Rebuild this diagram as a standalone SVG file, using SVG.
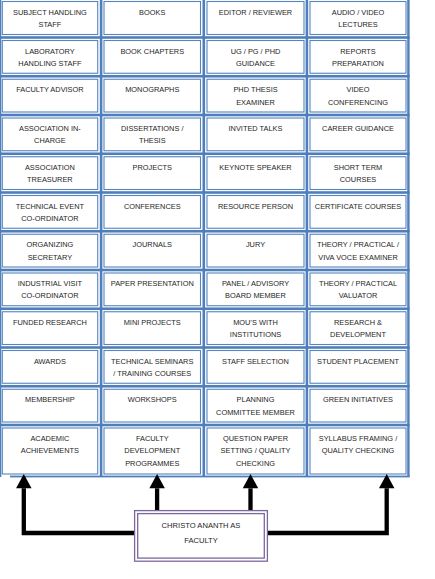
<svg xmlns="http://www.w3.org/2000/svg" width="435" height="579" viewBox="0 0 435 579">
<style>
.sep{fill:#4f7fba}
.cell{fill:#fff;stroke:#5584c0;stroke-width:1.1}
.t{font-family:"Liberation Sans",Arial,sans-serif;font-size:7.4px;fill:#1e1e1e;text-anchor:middle}
.c{fill:none;stroke:#000;stroke-width:4.3;stroke-linejoin:miter}
.main{fill:#fff;stroke:#7d679f;stroke-width:1.3}
.mt{font-family:"Liberation Sans",Arial,sans-serif;font-size:7.6px;fill:#1e1e1e;text-anchor:middle}
</style>
<defs>
<marker id="ah" markerUnits="userSpaceOnUse" markerWidth="15" markerHeight="16" refX="0" refY="7.75" orient="auto" overflow="visible">
<path d="M0,0 L14.3,7.75 L0,15.5 Z" fill="#000"/>
</marker>
</defs>
<rect width="435" height="579" fill="#fff"/>
<g id="grid">
<rect class="sep" x="0" y="0" width="1.3" height="477"/>
<rect class="sep" x="99.8" y="0" width="2.6" height="477"/>
<rect class="sep" x="202.5" y="0" width="2.6" height="477"/>
<rect class="sep" x="305.6" y="0" width="2.6" height="477"/>
<rect class="sep" x="407.2" y="0" width="2.4" height="477"/>
<rect class="sep" x="0" y="36.2" width="409.6" height="2.6"/>
<rect class="sep" x="0" y="74.95" width="409.6" height="2.6"/>
<rect class="sep" x="0" y="113.7" width="409.6" height="2.6"/>
<rect class="sep" x="0" y="152.45" width="409.6" height="2.6"/>
<rect class="sep" x="0" y="191.2" width="409.6" height="2.6"/>
<rect class="sep" x="0" y="229.95" width="409.6" height="2.6"/>
<rect class="sep" x="0" y="268.7" width="409.6" height="2.6"/>
<rect class="sep" x="0" y="307.45" width="409.6" height="2.6"/>
<rect class="sep" x="0" y="346.2" width="409.6" height="2.6"/>
<rect class="sep" x="0" y="384.95" width="409.6" height="2.6"/>
<rect class="sep" x="0" y="423.7" width="409.6" height="2.6"/>
<rect class="sep" x="10" y="475.6" width="399.6" height="1.8"/>
</g>
<!-- row 1 -->
<g id="n-r1c1"><rect class="cell" x="2.3" y="1.5" width="95.4" height="33"/><text class="t" y="14.65"><tspan x="49.9">SUBJECT HANDLING</tspan><tspan x="49.9" dy="12.3">STAFF</tspan></text></g>
<g id="n-r1c2"><rect class="cell" x="104" y="1.5" width="96.5" height="33"/><text class="t" y="14.65"><tspan x="152.25">BOOKS</tspan></text></g>
<g id="n-r1c3"><rect class="cell" x="207" y="1.5" width="97" height="33"/><text class="t" y="14.65"><tspan x="255.5">EDITOR / REVIEWER</tspan></text></g>
<g id="n-r1c4"><rect class="cell" x="310" y="1.5" width="96" height="33"/><text class="t" y="14.65"><tspan x="358">AUDIO / VIDEO</tspan><tspan x="358" dy="12.3">LECTURES</tspan></text></g>
<!-- row 2 -->
<g id="n-r2c1"><rect class="cell" x="2.3" y="40.5" width="95.4" height="32.75"/><text class="t" y="53.65"><tspan x="49.9">LABORATORY</tspan><tspan x="49.9" dy="12.3">HANDLING STAFF</tspan></text></g>
<g id="n-r2c2"><rect class="cell" x="104" y="40.5" width="96.5" height="32.75"/><text class="t" y="53.65"><tspan x="152.25">BOOK CHAPTERS</tspan></text></g>
<g id="n-r2c3"><rect class="cell" x="207" y="40.5" width="97" height="32.75"/><text class="t" y="53.65"><tspan x="255.5">UG / PG / PHD</tspan><tspan x="255.5" dy="12.3">GUIDANCE</tspan></text></g>
<g id="n-r2c4"><rect class="cell" x="310" y="40.5" width="96" height="32.75"/><text class="t" y="53.65"><tspan x="358">REPORTS</tspan><tspan x="358" dy="12.3">PREPARATION</tspan></text></g>
<!-- row 3 -->
<g id="n-r3c1"><rect class="cell" x="2.3" y="79.25" width="95.4" height="32.75"/><text class="t" y="92.4"><tspan x="49.9">FACULTY ADVISOR</tspan></text></g>
<g id="n-r3c2"><rect class="cell" x="104" y="79.25" width="96.5" height="32.75"/><text class="t" y="92.4"><tspan x="152.25">MONOGRAPHS</tspan></text></g>
<g id="n-r3c3"><rect class="cell" x="207" y="79.25" width="97" height="32.75"/><text class="t" y="92.4"><tspan x="255.5">PHD THESIS</tspan><tspan x="255.5" dy="12.3">EXAMINER</tspan></text></g>
<g id="n-r3c4"><rect class="cell" x="310" y="79.25" width="96" height="32.75"/><text class="t" y="92.4"><tspan x="358">VIDEO</tspan><tspan x="358" dy="12.3">CONFERENCING</tspan></text></g>
<!-- row 4 -->
<g id="n-r4c1"><rect class="cell" x="2.3" y="118" width="95.4" height="32.75"/><text class="t" y="131.15"><tspan x="49.9">ASSOCIATION IN-</tspan><tspan x="49.9" dy="12.3">CHARGE</tspan></text></g>
<g id="n-r4c2"><rect class="cell" x="104" y="118" width="96.5" height="32.75"/><text class="t" y="131.15"><tspan x="152.25">DISSERTATIONS /</tspan><tspan x="152.25" dy="12.3">THESIS</tspan></text></g>
<g id="n-r4c3"><rect class="cell" x="207" y="118" width="97" height="32.75"/><text class="t" y="131.15"><tspan x="255.5">INVITED TALKS</tspan></text></g>
<g id="n-r4c4"><rect class="cell" x="310" y="118" width="96" height="32.75"/><text class="t" y="131.15"><tspan x="358">CAREER GUIDANCE</tspan></text></g>
<!-- row 5 -->
<g id="n-r5c1"><rect class="cell" x="2.3" y="156.75" width="95.4" height="32.75"/><text class="t" y="169.9"><tspan x="49.9">ASSOCIATION</tspan><tspan x="49.9" dy="12.3">TREASURER</tspan></text></g>
<g id="n-r5c2"><rect class="cell" x="104" y="156.75" width="96.5" height="32.75"/><text class="t" y="169.9"><tspan x="152.25">PROJECTS</tspan></text></g>
<g id="n-r5c3"><rect class="cell" x="207" y="156.75" width="97" height="32.75"/><text class="t" y="169.9"><tspan x="255.5">KEYNOTE SPEAKER</tspan></text></g>
<g id="n-r5c4"><rect class="cell" x="310" y="156.75" width="96" height="32.75"/><text class="t" y="169.9"><tspan x="358">SHORT TERM</tspan><tspan x="358" dy="12.3">COURSES</tspan></text></g>
<!-- row 6 -->
<g id="n-r6c1"><rect class="cell" x="2.3" y="195.5" width="95.4" height="32.75"/><text class="t" y="208.65"><tspan x="49.9">TECHNICAL EVENT</tspan><tspan x="49.9" dy="12.3">CO-ORDINATOR</tspan></text></g>
<g id="n-r6c2"><rect class="cell" x="104" y="195.5" width="96.5" height="32.75"/><text class="t" y="208.65"><tspan x="152.25">CONFERENCES</tspan></text></g>
<g id="n-r6c3"><rect class="cell" x="207" y="195.5" width="97" height="32.75"/><text class="t" y="208.65"><tspan x="255.5">RESOURCE PERSON</tspan></text></g>
<g id="n-r6c4"><rect class="cell" x="310" y="195.5" width="96" height="32.75"/><text class="t" y="208.65"><tspan x="358">CERTIFICATE COURSES</tspan></text></g>
<!-- row 7 -->
<g id="n-r7c1"><rect class="cell" x="2.3" y="234.25" width="95.4" height="32.75"/><text class="t" y="247.4"><tspan x="49.9">ORGANIZING</tspan><tspan x="49.9" dy="12.3">SECRETARY</tspan></text></g>
<g id="n-r7c2"><rect class="cell" x="104" y="234.25" width="96.5" height="32.75"/><text class="t" y="247.4"><tspan x="152.25">JOURNALS</tspan></text></g>
<g id="n-r7c3"><rect class="cell" x="207" y="234.25" width="97" height="32.75"/><text class="t" y="247.4"><tspan x="255.5">JURY</tspan></text></g>
<g id="n-r7c4"><rect class="cell" x="310" y="234.25" width="96" height="32.75"/><text class="t" y="247.4"><tspan x="358">THEORY / PRACTICAL /</tspan><tspan x="358" dy="12.3">VIVA VOCE EXAMINER</tspan></text></g>
<!-- row 8 -->
<g id="n-r8c1"><rect class="cell" x="2.3" y="273" width="95.4" height="32.75"/><text class="t" y="286.15"><tspan x="49.9">INDUSTRIAL VISIT</tspan><tspan x="49.9" dy="12.3">CO-ORDINATOR</tspan></text></g>
<g id="n-r8c2"><rect class="cell" x="104" y="273" width="96.5" height="32.75"/><text class="t" y="286.15"><tspan x="152.25">PAPER PRESENTATION</tspan></text></g>
<g id="n-r8c3"><rect class="cell" x="207" y="273" width="97" height="32.75"/><text class="t" y="286.15"><tspan x="255.5">PANEL / ADVISORY</tspan><tspan x="255.5" dy="12.3">BOARD MEMBER</tspan></text></g>
<g id="n-r8c4"><rect class="cell" x="310" y="273" width="96" height="32.75"/><text class="t" y="286.15"><tspan x="358">THEORY / PRACTICAL</tspan><tspan x="358" dy="12.3">VALUATOR</tspan></text></g>
<!-- row 9 -->
<g id="n-r9c1"><rect class="cell" x="2.3" y="311.75" width="95.4" height="32.75"/><text class="t" y="324.9"><tspan x="49.9">FUNDED RESEARCH</tspan></text></g>
<g id="n-r9c2"><rect class="cell" x="104" y="311.75" width="96.5" height="32.75"/><text class="t" y="324.9"><tspan x="152.25">MINI PROJECTS</tspan></text></g>
<g id="n-r9c3"><rect class="cell" x="207" y="311.75" width="97" height="32.75"/><text class="t" y="324.9"><tspan x="255.5">MOU’S WITH</tspan><tspan x="255.5" dy="12.3">INSTITUTIONS</tspan></text></g>
<g id="n-r9c4"><rect class="cell" x="310" y="311.75" width="96" height="32.75"/><text class="t" y="324.9"><tspan x="358">RESEARCH &amp;</tspan><tspan x="358" dy="12.3">DEVELOPMENT</tspan></text></g>
<!-- row 10 -->
<g id="n-r10c1"><rect class="cell" x="2.3" y="350.5" width="95.4" height="32.75"/><text class="t" y="363.65"><tspan x="49.9">AWARDS</tspan></text></g>
<g id="n-r10c2"><rect class="cell" x="104" y="350.5" width="96.5" height="32.75"/><text class="t" y="363.65"><tspan x="152.25">TECHNICAL SEMINARS</tspan><tspan x="152.25" dy="12.3">/ TRAINING COURSES</tspan></text></g>
<g id="n-r10c3"><rect class="cell" x="207" y="350.5" width="97" height="32.75"/><text class="t" y="363.65"><tspan x="255.5">STAFF SELECTION</tspan></text></g>
<g id="n-r10c4"><rect class="cell" x="310" y="350.5" width="96" height="32.75"/><text class="t" y="363.65"><tspan x="358">STUDENT PLACEMENT</tspan></text></g>
<!-- row 11 -->
<g id="n-r11c1"><rect class="cell" x="2.3" y="389.25" width="95.4" height="32.75"/><text class="t" y="402.4"><tspan x="49.9">MEMBERSHIP</tspan></text></g>
<g id="n-r11c2"><rect class="cell" x="104" y="389.25" width="96.5" height="32.75"/><text class="t" y="402.4"><tspan x="152.25">WORKSHOPS</tspan></text></g>
<g id="n-r11c3"><rect class="cell" x="207" y="389.25" width="97" height="32.75"/><text class="t" y="402.4"><tspan x="255.5">PLANNING</tspan><tspan x="255.5" dy="12.3">COMMITTEE MEMBER</tspan></text></g>
<g id="n-r11c4"><rect class="cell" x="310" y="389.25" width="96" height="32.75"/><text class="t" y="402.4"><tspan x="358">GREEN INITIATIVES</tspan></text></g>
<!-- row 12 -->
<g id="n-r12c1"><rect class="cell" x="2.3" y="428" width="95.4" height="46"/><text class="t" y="440.9"><tspan x="49.9">ACADEMIC</tspan><tspan x="49.9" dy="12.4">ACHIEVEMENTS</tspan></text></g>
<g id="n-r12c2"><rect class="cell" x="104" y="428" width="96.5" height="46"/><text class="t" y="440.9"><tspan x="152.25">FACULTY</tspan><tspan x="152.25" dy="12.4">DEVELOPMENT</tspan><tspan x="152.25" dy="12.4">PROGRAMMES</tspan></text></g>
<g id="n-r12c3"><rect class="cell" x="207" y="428" width="97" height="46"/><text class="t" y="440.9"><tspan x="255.5">QUESTION PAPER</tspan><tspan x="255.5" dy="12.4">SETTING / QUALITY</tspan><tspan x="255.5" dy="12.4">CHECKING</tspan></text></g>
<g id="n-r12c4"><rect class="cell" x="310" y="428" width="96" height="46"/><text class="t" y="440.9"><tspan x="358">SYLLABUS FRAMING /</tspan><tspan x="358" dy="12.4">QUALITY CHECKING</tspan></text></g>
<!-- connectors -->
<g id="connectors">
<path class="c" d="M134.5,533 H23.8 V488.3" marker-end="url(#ah)"/>
<path class="c" d="M267.5,533 H386.7 V488.3" marker-end="url(#ah)"/>
<path class="c" d="M157.1,510.5 V488.3" marker-end="url(#ah)"/>
<path class="c" d="M250.5,510.5 V488.3" marker-end="url(#ah)"/>
</g>
<!-- central node -->
<g id="n-faculty">
<rect class="main" x="134.6" y="510.6" width="132.8" height="50.6"/>
<rect class="main" x="137.7" y="513.6" width="126.6" height="44.5"/>
<text class="mt" y="527.8"><tspan x="201">CHRISTO ANANTH  AS</tspan><tspan x="201" dy="15">FACULTY</tspan></text>
</g>
</svg>
